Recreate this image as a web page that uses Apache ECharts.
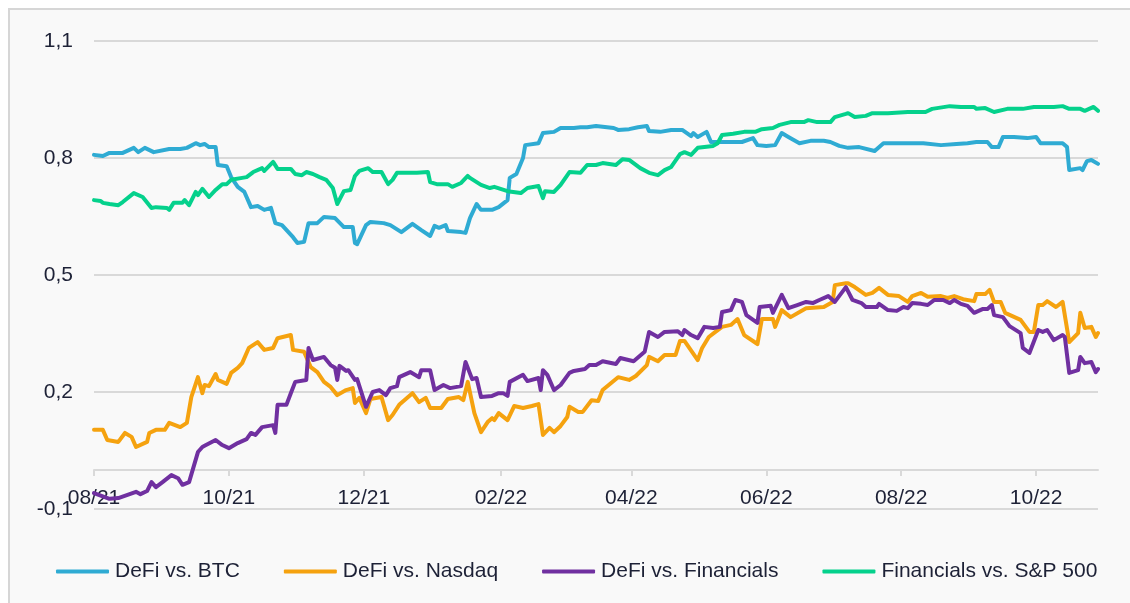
<!DOCTYPE html>
<html>
<head>
<meta charset="utf-8">
<script src="https://cdn.jsdelivr.net/npm/echarts@6/dist/echarts.min.js"></script>
<style>
  html, body { margin: 0; padding: 0; background: #ffffff; }
  #wrap { position: relative; width: 1130px; height: 603px; overflow: hidden; }
  #frame { position: absolute; left: 8px; top: 8px; width: 1200px; height: 700px;
           border: 2px solid #d6d6d6; background: #f9f9f9; box-sizing: border-box; }
  #chart { position: absolute; left: 0; top: 0; width: 1130px; height: 603px; }
</style>
</head>
<body>
<div id="wrap"><div id="frame"></div><div id="chart"></div></div>
<script>
// x: days since 2021-08-01, y: correlation value
const startDate = '2021-08-01';
const dayCount = 455; // 2021-08-01 .. 2022-10-29
const seriesNames = ['DeFi vs. BTC', 'DeFi vs. Nasdaq', 'DeFi vs. Financials', 'Financials vs. S&P 500'];
const yTicks = [-0.1, 0.2, 0.5, 0.8, 1.1];

const defiBtc = [[0,.808],[4,.805],[7,.813],[13,.813],[18,.826],[20,.815],[23,.826],[27,.815],[34,.823],[39,.823],[42,.826],[46,.838],[48,.833],[50,.836],[52,.828],[55,.828],[56,.782],[60,.779],[62,.751],[65,.726],[68,.713],[71,.674],[74,.677],[77,.667],[80,.672],[82,.633],[85,.628],[90,.597],[92,.582],[95,.585],[97,.633],[101,.633],[104,.649],[109,.646],[113,.623],[117,.623],[118,.582],[119,.579],[123,.628],[125,.636],[131,.633],[134,.628],[139,.610],[144,.631],[148,.615],[152,.600],[154,.626],[156,.621],[159,.628],[160,.613],[166,.610],[168,.608],[170,.646],[173,.682],[175,.667],[180,.667],[183,.674],[187,.692],[188,.749],[191,.759],[194,.800],[195,.833],[201,.838],[203,.864],[208,.867],[211,.877],[217,.877],[220,.879],[223,.879],[227,.882],[235,.877],[237,.872],[242,.874],[246,.879],[250,.882],[251,.869],[256,.867],[261,.872],[266,.872],[270,.856],[271,.864],[273,.854],[277,.867],[279,.841],[284,.841],[293,.841],[298,.851],[300,.833],[304,.831],[308,.833],[311,.864],[314,.854],[319,.838],[324,.844],[330,.844],[333,.841],[337,.831],[341,.826],[346,.828],[353,.818],[357,.838],[364,.838],[369,.838],[375,.838],[383,.833],[390,.836],[395,.838],[399,.841],[404,.841],[406,.828],[409,.828],[411,.854],[416,.854],[422,.851],[426,.854],[428,.838],[434,.838],[438,.838],[440,.828],[441,.769],[446,.774],[447,.769],[449,.792],[451,.795],[454,.785]];

const defiNasdaq = [[0,.103],[4,.103],[6,.077],[11,.072],[14,.095],[17,.085],[19,.059],[24,.072],[25,.095],[28,.103],[32,.103],[34,.121],[39,.110],[42,.121],[44,.187],[47,.238],[49,.197],[50,.218],[52,.215],[55,.246],[56,.231],[60,.221],[62,.249],[65,.262],[67,.274],[70,.313],[74,.328],[77,.308],[81,.313],[83,.338],[89,.346],[90,.308],[95,.303],[98,.264],[101,.251],[104,.226],[107,.213],[110,.192],[114,.205],[117,.210],[118,.172],[120,.185],[123,.146],[125,.182],[130,.187],[133,.128],[135,.141],[138,.167],[144,.197],[147,.174],[150,.185],[152,.159],[157,.159],[160,.182],[165,.187],[167,.179],[169,.226],[172,.146],[175,.097],[178,.123],[180,.133],[181,.128],[183,.146],[187,.128],[190,.164],[194,.159],[198,.164],[201,.169],[203,.090],[206,.108],[208,.097],[211,.113],[214,.136],[215,.162],[219,.149],[221,.149],[225,.179],[228,.177],[230,.205],[237,.238],[242,.231],[245,.241],[250,.269],[251,.290],[255,.279],[258,.295],[263,.295],[265,.331],[267,.331],[273,.282],[275,.313],[278,.341],[281,.354],[284,.367],[288,.372],[291,.387],[294,.346],[300,.323],[302,.387],[307,.387],[308,.367],[311,.410],[315,.392],[322,.415],[330,.418],[334,.431],[335,.474],[340,.479],[341,.479],[344,.469],[349,.449],[352,.454],[355,.467],[359,.449],[364,.446],[368,.431],[370,.446],[374,.454],[377,.444],[383,.446],[386,.441],[389,.446],[393,.438],[398,.433],[399,.451],[403,.451],[405,.462],[407,.431],[410,.431],[412,.403],[419,.385],[423,.354],[425,.354],[427,.423],[429,.423],[431,.433],[435,.418],[438,.431],[441,.328],[445,.351],[446,.403],[448,.364],[451,.367],[453,.341],[454,.351]];

const defiFinancials = [[0,-.059],[7,-.074],[11,-.072],[19,-.056],[21,-.062],[24,-.054],[26,-.031],[28,-.044],[31,-.031],[35,-.013],[38,-.021],[40,-.038],[43,-.031],[47,.046],[49,.059],[50,.062],[55,.077],[58,.064],[61,.056],[65,.069],[69,.079],[71,.095],[73,.090],[76,.110],[81,.115],[82,.095],[83,.167],[87,.167],[89,.197],[91,.226],[96,.231],[97,.313],[99,.282],[104,.290],[107,.269],[109,.262],[110,.231],[111,.267],[114,.254],[115,.256],[118,.231],[119,.233],[123,.162],[126,.200],[129,.205],[132,.192],[134,.210],[137,.215],[138,.238],[143,.251],[147,.238],[148,.256],[152,.256],[154,.205],[158,.218],[161,.210],[166,.215],[168,.277],[171,.233],[173,.236],[175,.187],[180,.190],[183,.197],[185,.197],[187,.190],[188,.226],[194,.244],[196,.228],[201,.236],[202,.205],[203,.256],[205,.244],[208,.205],[211,.218],[215,.249],[217,.254],[222,.259],[224,.269],[227,.269],[230,.279],[236,.272],[238,.287],[244,.279],[249,.303],[251,.354],[255,.341],[258,.354],[264,.356],[266,.346],[267,.359],[270,.346],[273,.338],[276,.367],[280,.364],[283,.367],[284,.405],[288,.410],[290,.436],[293,.431],[295,.397],[300,.377],[301,.418],[306,.421],[307,.403],[311,.449],[314,.415],[318,.423],[322,.431],[325,.428],[328,.436],[332,.446],[335,.431],[340,.469],[343,.436],[347,.428],[349,.418],[354,.418],[355,.426],[359,.410],[363,.408],[366,.418],[368,.415],[370,.428],[374,.426],[377,.423],[380,.436],[384,.436],[387,.428],[389,.436],[392,.426],[395,.421],[398,.403],[402,.413],[404,.413],[406,.423],[407,.397],[411,.392],[414,.369],[419,.351],[420,.313],[423,.300],[427,.359],[429,.354],[431,.359],[434,.333],[438,.346],[439,.341],[441,.249],[445,.256],[446,.290],[448,.274],[451,.277],[453,.251],[454,.259]];

const financialsSp = [[0,.692],[3,.690],[4,.685],[7,.682],[11,.679],[13,.687],[18,.710],[22,.700],[26,.672],[28,.674],[33,.672],[34,.667],[36,.685],[40,.685],[41,.692],[43,.679],[46,.713],[47,.705],[49,.721],[52,.700],[55,.718],[58,.733],[60,.733],[62,.744],[67,.749],[69,.751],[72,.764],[76,.774],[77,.767],[81,.790],[83,.772],[89,.772],[91,.759],[94,.756],[96,.764],[99,.759],[102,.751],[105,.744],[108,.723],[110,.682],[113,.715],[116,.718],[118,.754],[120,.767],[124,.774],[126,.764],[130,.764],[133,.733],[135,.744],[137,.762],[143,.762],[146,.762],[151,.764],[152,.738],[155,.733],[160,.733],[162,.726],[166,.736],[169,.754],[170,.749],[175,.731],[179,.723],[181,.726],[187,.715],[193,.710],[196,.723],[201,.728],[203,.697],[204,.715],[208,.713],[211,.731],[215,.764],[220,.762],[223,.782],[227,.782],[230,.787],[236,.782],[239,.797],[242,.795],[247,.774],[251,.762],[255,.756],[258,.769],[261,.777],[265,.810],[267,.815],[270,.808],[273,.826],[276,.828],[280,.831],[282,.838],[284,.859],[289,.862],[294,.867],[299,.867],[302,.874],[307,.877],[310,.885],[315,.892],[321,.892],[323,.897],[327,.892],[333,.892],[335,.905],[340,.913],[341,.915],[344,.905],[349,.908],[352,.915],[359,.915],[368,.918],[376,.918],[379,.926],[387,.933],[392,.931],[398,.931],[399,.926],[403,.928],[407,.918],[413,.926],[420,.926],[425,.931],[434,.931],[438,.933],[441,.926],[446,.926],[448,.921],[452,.931],[454,.921]];

const colors = ['#2fabd3', '#f5a20f', '#7030a0', '#05d18c'];
const seriesData = [defiBtc, defiNasdaq, defiFinancials, financialsSp];

// daily categories
const days = [];
{
  const t0 = Date.UTC(2021, 7, 1);
  for (let i = 0; i < dayCount; i++) {
    const d = new Date(t0 + i * 86400000);
    const y = d.getUTCFullYear(), m = String(d.getUTCMonth() + 1).padStart(2, '0'), dd = String(d.getUTCDate()).padStart(2, '0');
    days.push(y + '-' + m + '-' + dd);
  }
}
const isLabelDay = (idx, val) => val.slice(8) === '01' && parseInt(val.slice(5, 7), 10) % 2 === 0;
const textColor = '#1d2136';
const fontFamily = 'Liberation Sans, Arial, sans-serif';

const chart = echarts.init(document.getElementById('chart'), null, { renderer: 'canvas' });
chart.setOption({
  animation: false,
  backgroundColor: 'transparent',
  grid: { left: 94, right: 32, top: 41, bottom: 94, containLabel: false },
  xAxis: {
    type: 'category',
    data: days,
    boundaryGap: false,
    axisLine: { onZero: true, lineStyle: { color: '#d9d9d9', width: 2 } },
    axisTick: { show: true, interval: isLabelDay, length: 6, lineStyle: { color: '#d9d9d9', width: 2 } },
    axisLabel: {
      interval: isLabelDay, margin: -21, color: textColor, fontSize: 21, fontFamily: fontFamily,
      formatter: v => v.slice(5, 7) + '/' + v.slice(2, 4)
    },
    splitLine: { show: false }
  },
  yAxis: {
    type: 'value',
    min: yTicks[0], max: yTicks[yTicks.length - 1], interval: 0.3,
    axisLine: { show: false }, axisTick: { show: false },
    axisLabel: { margin: 21, color: textColor, fontSize: 21, fontFamily: fontFamily,
      formatter: v => v.toFixed(1).replace('.', ',') },
    splitLine: { lineStyle: { color: '#d9d9d9', width: 2 } }
  },
  legend: {
    left: 51, top: 556,
    itemWidth: 53, itemHeight: 4, itemGap: 44,
    icon: 'roundRect',
    textStyle: { color: textColor, fontSize: 21, fontFamily: fontFamily, padding: [0, 0, 0, 1] },
    data: seriesNames
  },
  series: seriesNames.map((name, i) => ({
    name: name,
    type: 'line',
    data: seriesData[i].map(p => [days[p[0]], p[1]]),
    showSymbol: false,
    symbol: 'none',
    lineStyle: { color: colors[i], width: 4, cap: 'round', join: 'round' },
    itemStyle: { color: colors[i] },
    emphasis: { disabled: true }
  }))
});
</script>
</body>
</html>
